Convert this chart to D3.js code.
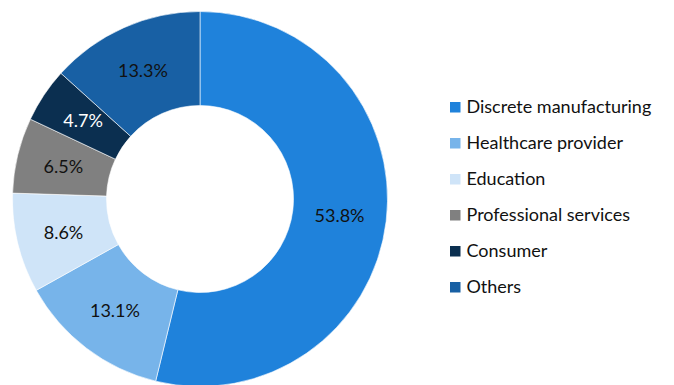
<!DOCTYPE html>
<html>
<head>
<meta charset="utf-8">
<script src="https://cdn.jsdelivr.net/npm/d3@7"></script>
<style>
  body { margin: 0; background: #fff; }
  svg { display: block; font-family: "Lato", "Open Sans", sans-serif; }
</style>
</head>
<body>
<div id="chart"></div>
<script>
// Datos del gráfico
const categories = ["Discrete manufacturing", "Healthcare provider", "Education", "Professional services", "Consumer", "Others"];
const values = [53.8, 13.1, 8.6, 6.5, 4.7, 13.3];
const colors = ["#1F82DB", "#77B4EA", "#CFE4F8", "#808080", "#0B2F50", "#1860A4"];
const labelColors = ["#111", "#111", "#111", "#111", "#fff", "#111"];

const width = 674, height = 385;
const cx = 200, cy = 199;
const outerR = 187.5, innerR = 93.5;

const svg = d3.select("#chart").append("svg")
    .attr("width", width)
    .attr("height", height);

const g = svg.append("g").attr("transform", `translate(${cx},${cy})`);

const pie = d3.pie().sort(null).value(d => d.value);
const data = categories.map((c, i) => ({ name: c, value: values[i], color: colors[i], label: labelColors[i] }));

const arc = d3.arc().innerRadius(innerR).outerRadius(outerR);
const arcs = pie(data);

g.selectAll("path")
    .data(arcs)
    .enter()
    .append("path")
    .attr("d", arc)
    .style("fill", d => d.data.color)
    .style("stroke", "#fff")
    .style("stroke-width", 0.6);

// Etiquetas de porcentaje
g.selectAll(".pct")
    .data(arcs)
    .enter()
    .append("text")
    .attr("class", "pct")
    .attr("transform", d => `translate(${arc.centroid(d)})`)
    .attr("text-anchor", "middle")
    .attr("dy", "0.35em")
    .style("font-size", "18px")
    .style("fill", d => d.data.label)
    .text(d => d.data.value.toFixed(1) + "%");

// Leyenda
const legend = svg.append("g").attr("transform", "translate(450,107)");
const items = legend.selectAll(".legend-item")
    .data(data)
    .enter()
    .append("g")
    .attr("class", "legend-item")
    .attr("transform", (d, i) => `translate(0,${i * 36})`);

items.append("rect")
    .attr("x", 0)
    .attr("y", -5)
    .attr("width", 10.5)
    .attr("height", 10.5)
    .style("fill", d => d.color);

items.append("text")
    .attr("x", 16.5)
    .attr("dy", "0.35em")
    .style("font-size", "18px")
    .style("fill", "#111")
    .text(d => d.name);
</script>
</body>
</html>
